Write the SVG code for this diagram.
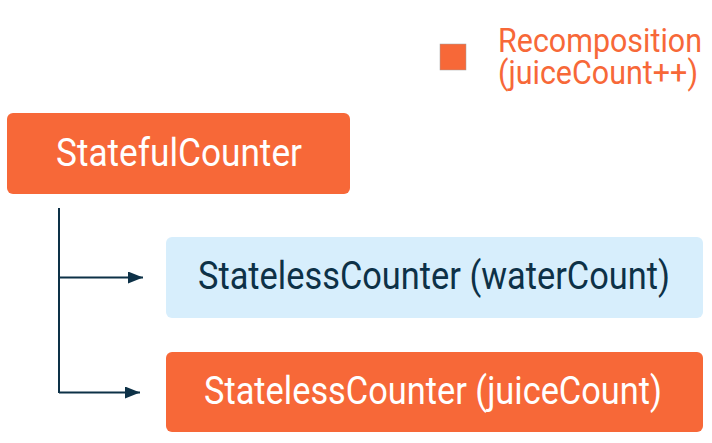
<svg xmlns="http://www.w3.org/2000/svg" width="712" height="443" viewBox="0 0 712 443">
<defs>
<style>
.t{font-family:Roboto,"Liberation Sans",sans-serif;font-size:38px}
.w{fill:#ffffff}
.d{fill:#0d3147}
.o{fill:#f76838}
.b{fill:#d7eefc}
.c{stroke:#0d3147;stroke-width:2;fill:none}
.lg{font-family:Roboto,"Liberation Sans",sans-serif;font-size:32.5px;fill:#f76838}
</style>
<marker id="ah" viewBox="0 0 15 12" refX="15" refY="6" markerWidth="15" markerHeight="12" markerUnits="userSpaceOnUse" orient="auto">
<path d="M0,0 L15,6 L0,12 Z" fill="#0d3147"/>
</marker>
</defs>
<rect width="712" height="443" fill="#ffffff"/>
<g id="legend">
<rect x="440" y="44" width="26" height="26" class="o" stroke="#a0a0a0" stroke-width="0.5"/>
<g transform="translate(498,0) scale(0.92,1)">
<text class="lg" x="0" y="52" textLength="221.7" lengthAdjust="spacingAndGlyphs">Recomposition</text>
<text class="lg" x="0" y="84" textLength="217.4" lengthAdjust="spacingAndGlyphs">(juiceCount++)</text>
</g>
</g>
<g id="statefulCounter">
<rect x="7" y="113" width="343" height="81" rx="6" class="o"/>
<g transform="translate(56,0) scale(0.92,1)">
<text class="t w" x="0" y="166" textLength="267.4" lengthAdjust="spacingAndGlyphs">StatefulCounter</text>
</g>
</g>
<g id="statelessWater">
<rect x="166" y="237" width="537" height="81" rx="6" class="b"/>
<g transform="translate(198,0) scale(0.92,1)">
<text class="t d" x="0" y="289" textLength="513" lengthAdjust="spacingAndGlyphs">StatelessCounter (waterCount)</text>
</g>
</g>
<g id="statelessJuice">
<rect x="166" y="352" width="537" height="80" rx="6" class="o"/>
<g transform="translate(204,0) scale(0.92,1)">
<text class="t w" x="0" y="404" textLength="497.8" lengthAdjust="spacingAndGlyphs">StatelessCounter (juiceCount)</text>
</g>
</g>
<g id="connectors">
<line x1="59" y1="208" x2="59" y2="393" class="c"/>
<line x1="59" y1="277.5" x2="143" y2="277.5" class="c" marker-end="url(#ah)"/>
<line x1="59" y1="392.5" x2="140" y2="392.5" class="c" marker-end="url(#ah)"/>
</g>
</svg>
